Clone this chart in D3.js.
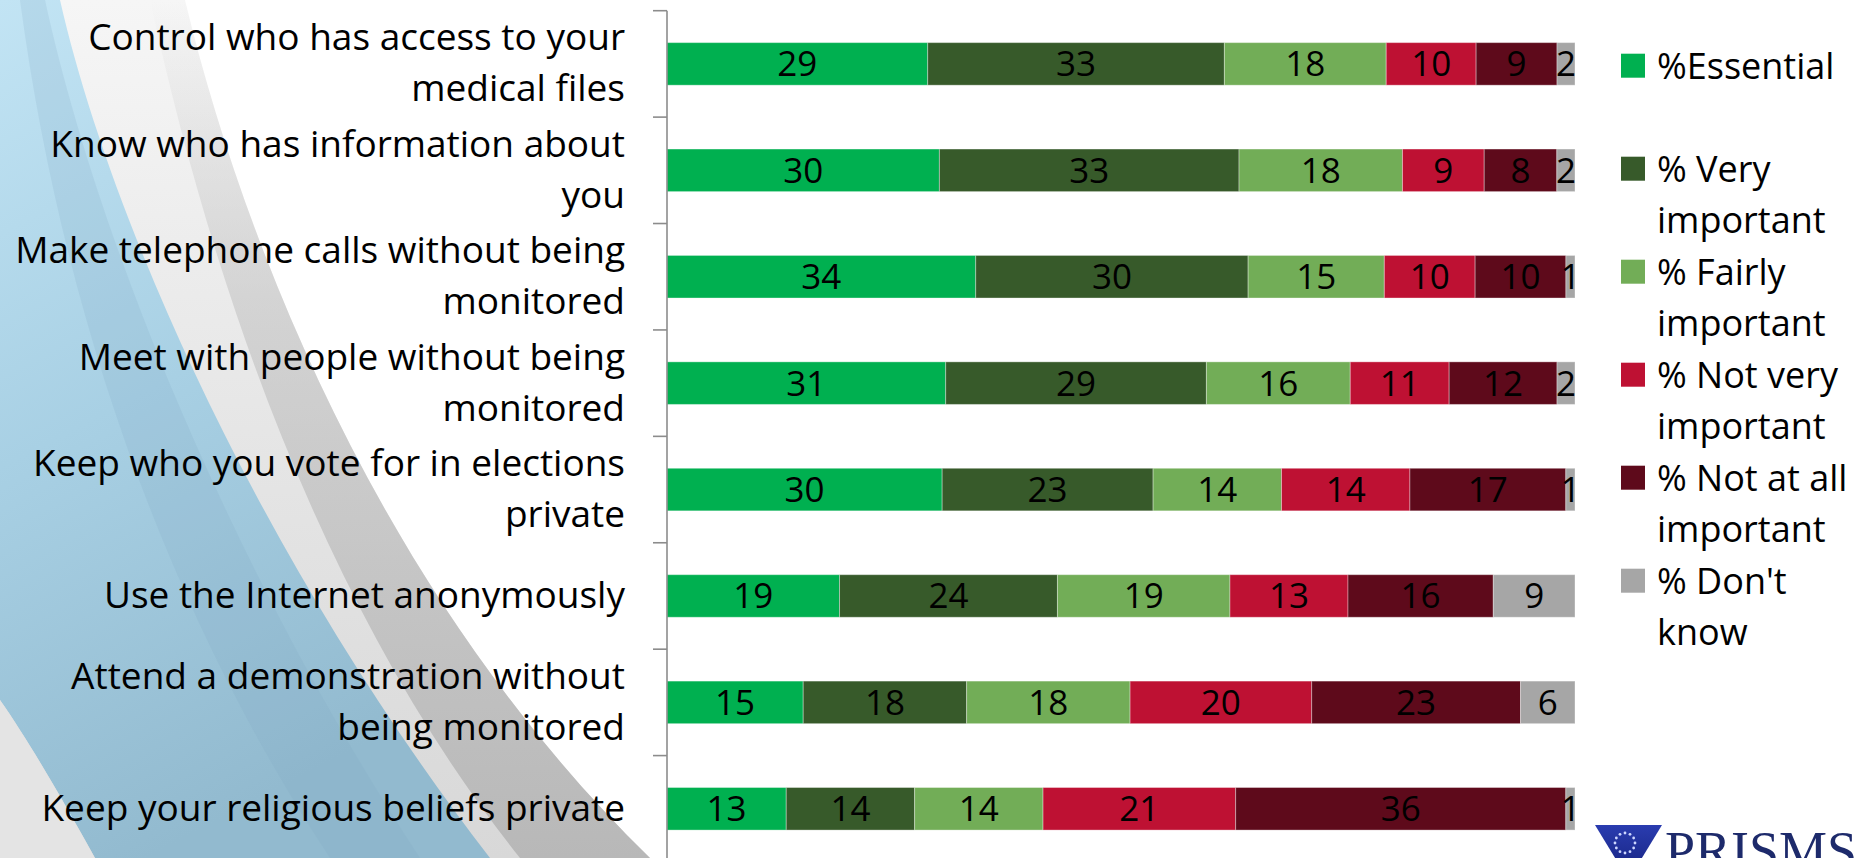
<!DOCTYPE html>
<html><head><meta charset="utf-8">
<script src="https://cdn.jsdelivr.net/npm/d3@7"></script>
<style>html,body{margin:0;padding:0;background:#fff;overflow:hidden}</style>
</head><body>
<svg id="c" width="1866" height="858"></svg>
<script>
// ---------- data ----------
const categories = [
  "Control who has access to your medical files",
  "Know who has information about you",
  "Make telephone calls without being monitored",
  "Meet with people without being monitored",
  "Keep who you vote for in elections private",
  "Use the Internet anonymously",
  "Attend a demonstration without being monitored",
  "Keep your religious beliefs private"
];
const categoryLines = [
  ["Control who has access to your", "medical files"],
  ["Know who has information about", "you"],
  ["Make telephone calls without being", "monitored"],
  ["Meet with people without being", "monitored"],
  ["Keep who you vote for in elections", "private"],
  ["Use the Internet anonymously"],
  ["Attend a demonstration without", "being monitored"],
  ["Keep your religious beliefs private"]
];
const seriesNames = ["%Essential", "% Very important", "% Fairly important", "% Not very important", "% Not at all important", "% Don't know"];
const legendLines = [["%Essential"], ["% Very", "important"], ["% Fairly", "important"], ["% Not very", "important"], ["% Not at all", "important"], ["% Don't", "know"]];
const essential        = [29, 30, 34, 31, 30, 19, 15, 13];
const veryImportant    = [33, 33, 30, 29, 23, 24, 18, 14];
const fairlyImportant  = [18, 18, 15, 16, 14, 19, 18, 14];
const notVeryImportant = [10,  9, 10, 11, 14, 13, 20, 21];
const notAtAllImportant= [ 9,  8, 10, 12, 17, 16, 23, 36];
const dontKnow         = [ 2,  2,  1,  2,  1,  9,  6,  1];
const seriesColors = ["#00b050", "#375a2a", "#72ad57", "#be1133", "#5e0a1b", "#a6a6a6"];

const seriesValues = [essential, veryImportant, fairlyImportant, notVeryImportant, notAtAllImportant, dontKnow];
const rows = categories.map((c, i) => {
  const r = {category: c};
  seriesNames.forEach((s, j) => r[s] = seriesValues[j][i]);
  return r;
});

const svg = d3.select("#c");
const FONT = "'Open Sans', 'Noto Sans', sans-serif";

// ---------- background decoration ----------
const defs = svg.append("defs");
const gBlue = defs.append("linearGradient").attr("id", "gBlue").attr("x1", 0).attr("y1", 0).attr("x2", 0.3).attr("y2", 1);
gBlue.append("stop").attr("offset", 0).attr("stop-color", "#c2e4f4");
gBlue.append("stop").attr("offset", 0.5).attr("stop-color", "#a8d0e4");
gBlue.append("stop").attr("offset", 1).attr("stop-color", "#92bacf");
const gBand = defs.append("linearGradient").attr("id", "gBand").attr("x1", 0).attr("y1", 0).attr("x2", 0).attr("y2", 1);
gBand.append("stop").attr("offset", 0).attr("stop-color", "#f6f6f6");
gBand.append("stop").attr("offset", 0.5).attr("stop-color", "#e6e6e6");
gBand.append("stop").attr("offset", 1).attr("stop-color", "#d8d8d8");
const gStripe = defs.append("linearGradient").attr("id", "gStripe").attr("x1", 0).attr("y1", 0).attr("x2", 0).attr("y2", 1);
gStripe.append("stop").attr("offset", 0).attr("stop-color", "#c4c4c4").attr("stop-opacity", 0);
gStripe.append("stop").attr("offset", 0.35).attr("stop-color", "#c4c4c4").attr("stop-opacity", 0.6);
gStripe.append("stop").attr("offset", 1).attr("stop-color", "#b8b8b8").attr("stop-opacity", 1);
const gTri = defs.append("linearGradient").attr("id", "gTri").attr("x1", 0).attr("y1", 0).attr("x2", 0).attr("y2", 1);
gTri.append("stop").attr("offset", 0).attr("stop-color", "#2a3cb0");
gTri.append("stop").attr("offset", 1).attr("stop-color", "#14207a");

const bg = svg.append("g").attr("class", "background");
bg.append("path")
  .attr("d", "M0,0 L185,0 C245,250 385,600 650,858 L0,858 Z")
  .attr("fill", "url(#gBand)");
bg.append("path")
  .attr("d", "M150,0 L185,0 C245,250 385,600 650,858 L520,858 C330,620 215,300 150,0 Z")
  .attr("fill", "url(#gStripe)");
bg.append("path")
  .attr("d", "M0,0 L60,0 C110,220 260,560 490,858 L95,858 C60,795 28,740 0,700 Z")
  .attr("fill", "url(#gBlue)");
bg.append("path")
  .attr("d", "M20,0 L45,0 C95,230 225,560 420,858 L330,858 C160,600 60,300 20,0 Z")
  .attr("fill", "#7fa9c0").attr("opacity", 0.18);
bg.append("path")
  .attr("d", "M0,700 C28,740 60,795 95,858 L0,858 Z")
  .attr("fill", "#e4e4e4");

// ---------- scales ----------
const y = d3.scaleBand().domain(categories).range([10.7, 862]).paddingInner(0.6).paddingOuter(0.3);
const x = d3.scaleLinear().domain([0, 1]).range([667, 1575]);
const color = d3.scaleOrdinal().domain(seriesNames).range(seriesColors);

const stack = d3.stack().keys(seriesNames).offset(d3.stackOffsetExpand);
const stacked = stack(rows);

// ---------- bars ----------
const layers = svg.append("g").selectAll("g").data(stacked).join("g").attr("fill", d => color(d.key));
layers.selectAll("rect").data(d => d).join("rect")
  .attr("x", d => x(d[0]))
  .attr("y", d => y(d.data.category))
  .attr("width", d => x(d[1]) - x(d[0]))
  .attr("height", y.bandwidth())
  .attr("stroke", "rgba(255,255,255,0.35)")
  .attr("stroke-width", 1);

// values
const valLayers = svg.append("g").selectAll("g").data(stacked).join("g");
valLayers.selectAll("text").data(d => d.map(v => ({v, key: d.key}))).join("text")
  .attr("x", d => (x(d.v[0]) + x(d.v[1])) / 2)
  .attr("y", d => y(d.v.data.category) + y.bandwidth() / 2 + 12.5)
  .attr("text-anchor", "middle")
  .attr("font-family", FONT).attr("font-size", 35).attr("fill", "#000")
  .text(d => d.v.data[d.key]);

// ---------- axis ----------
const boundaries = d3.range(categories.length + 1).map(k => y.range()[0] + k * y.step());
const axisG = svg.append("g").attr("stroke", "#8c8c8c").attr("stroke-width", 1.6);
axisG.append("line").attr("x1", x(0)).attr("x2", x(0)).attr("y1", boundaries[0]).attr("y2", boundaries[boundaries.length - 1]);
axisG.selectAll("line.tick").data(boundaries).join("line").attr("class", "tick")
  .attr("x1", x(0) - 14).attr("x2", x(0)).attr("y1", d => d).attr("y2", d => d);

// category labels
const labG = svg.append("g").attr("font-family", FONT).attr("font-size", 37).attr("fill", "#000").attr("text-anchor", "end");
categories.forEach((c, i) => {
  const lines = categoryLines[i];
  const cy = y(c) + y.bandwidth() / 2;
  const t = labG.append("text");
  lines.forEach((ln, k) => {
    t.append("tspan").attr("x", 625).attr("y", cy + 12 + (k - (lines.length - 1) / 2) * 51).text(ln);
  });
});

// ---------- legend ----------
const legG = svg.append("g").attr("font-family", FONT).attr("font-size", 36).attr("fill", "#000");
seriesNames.forEach((s, i) => {
  const base = 78.7 + i * 103;
  legG.append("rect").attr("x", 1621).attr("y", base - 25).attr("width", 24).attr("height", 24).attr("fill", color(s));
  const t = legG.append("text");
  legendLines[i].forEach((ln, k) => t.append("tspan").attr("x", 1657).attr("y", base + k * 51.5).text(ln));
});

// ---------- logo ----------
const logo = svg.append("g");
logo.append("path").attr("d", "M1595,825 L1662,825 L1628.5,880 Z").attr("fill", "url(#gTri)");
const starN = 12;
logo.selectAll("circle").data(d3.range(starN)).join("circle")
  .attr("cx", k => 1625 + 10 * Math.cos(2 * Math.PI * k / starN))
  .attr("cy", k => 843 + 10 * Math.sin(2 * Math.PI * k / starN))
  .attr("r", 1.4).attr("fill", "#cdd6ff");
logo.append("text").attr("x", 1665).attr("y", 869)
  .attr("font-family", "'Liberation Serif', serif").attr("font-size", 54).attr("fill", "#1d2a6b")
  .text("PRISMS");
</script>
</body></html>
